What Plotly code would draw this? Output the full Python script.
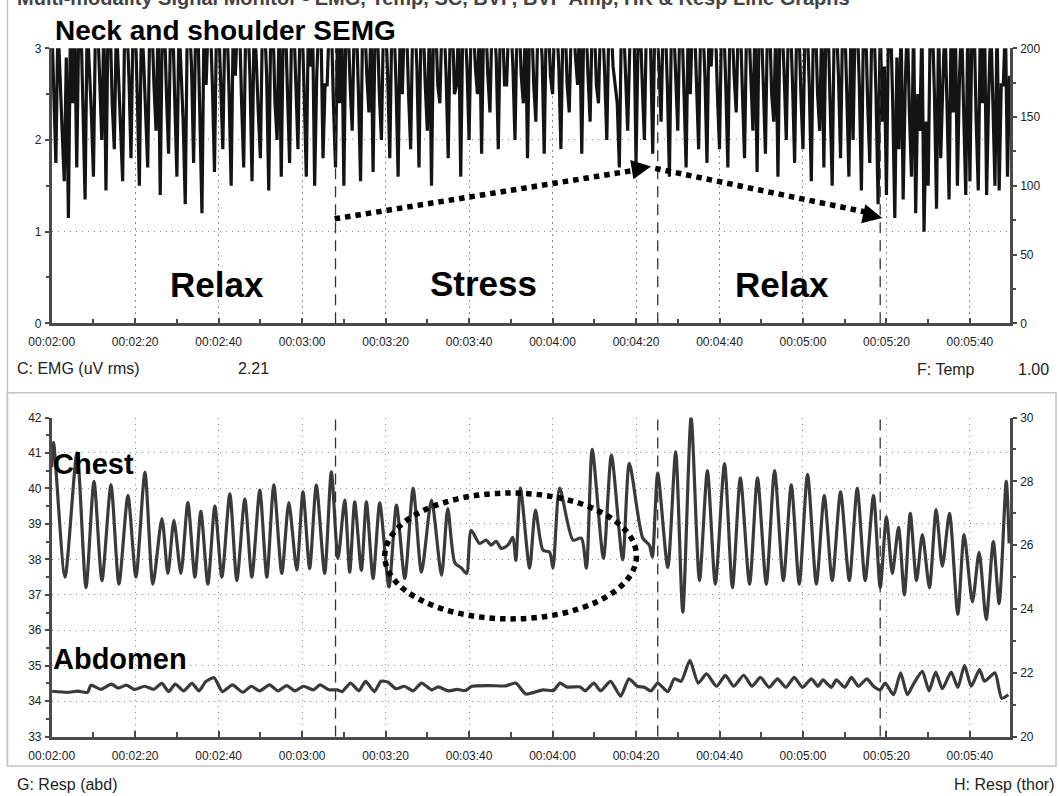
import plotly.graph_objects as go

W, H = 1059, 796

# ---------------- data ----------------
# Neck/shoulder SEMG readings, 00:02:00 onwards (values above 3 run off the top of the display)
emg_start_s = 120
# readings on each whole second
emg_uv = [
    3.3, 1.75, 2.6, 1.55, 1.15, 2.4, 1.7, 3.3, 1.35, 2.8,
    1.6, 3.3, 2.0, 1.45, 3.3, 1.9, 2.7, 1.55, 3.3, 1.8,
    3.3, 1.5, 2.9, 1.7, 3.3, 2.1, 1.4, 3.3, 1.85, 3.3,
    1.6, 2.8, 1.3, 3.3, 1.75, 3.3, 1.2, 2.6, 3.3, 1.65,
    3.3, 1.9, 3.3, 1.5, 2.7, 3.3, 1.7, 3.3, 1.55, 2.9,
    1.8, 3.3, 1.45, 3.3, 2.0, 1.6, 3.3, 1.75, 3.3, 1.9,
    3.3, 1.6, 2.8, 1.5, 3.3, 1.8, 2.6, 3.3, 1.7, 2.4,
    1.5, 3.3, 2.1, 3.3, 1.55, 3.3, 2.3, 1.65, 3.3, 2.0,
    3.3, 1.8, 3.3, 1.6, 2.5, 3.3, 1.9, 3.3, 1.7, 3.3,
    2.1, 1.5, 3.3, 2.4, 3.3, 1.8, 3.3, 2.6, 1.6, 3.3,
    2.0, 3.3, 2.5, 1.85, 3.3, 2.3, 3.3, 1.9, 3.3, 2.6,
    3.3, 2.0, 3.3, 2.4, 1.8, 3.3, 2.2, 3.3, 1.85, 3.3,
    2.5, 3.3, 1.9, 3.3, 2.3, 3.3, 2.6, 1.85, 3.3, 2.2,
    3.3, 2.4, 3.3, 2.0, 3.3, 2.6, 1.7, 3.3, 2.1, 3.3,
    1.75, 3.3, 2.0, 3.3, 1.85, 3.3, 2.2, 3.3, 1.6, 3.3,
    2.1, 3.3, 1.7, 2.5, 3.3, 1.9, 3.3, 1.75, 2.8, 3.3,
    1.9, 3.3, 1.7, 3.3, 2.3, 3.3, 1.8, 3.3, 2.1, 1.65,
    3.3, 1.85, 3.3, 2.2, 1.6, 3.3, 2.0, 3.3, 1.75, 3.3,
    1.9, 3.3, 1.55, 3.3, 2.1, 1.7, 3.3, 1.5, 3.3, 1.8,
    3.3, 1.6, 2.0, 3.3, 1.45, 3.3, 1.75, 3.3, 1.3, 2.2,
    1.4, 3.3, 1.15, 1.9, 1.35, 3.3, 1.6, 1.2, 2.1, 1.0,
    1.5, 3.3, 1.25, 1.8, 3.3, 1.35, 2.3, 1.5, 3.3, 1.4,
    1.55, 3.3, 1.45, 2.4, 1.4, 3.3, 1.5, 1.45, 2.6, 1.6,
]
# readings half a second later
emg_uv_half = [
    2.4, 3.3, 2.1, 2.9, 3.3, 3.3, 3.3, 2.2, 3.3, 2.3,
    3.3, 2.6, 3.3, 3.3, 2.4, 3.3, 2.2, 3.3, 2.7, 3.3,
    2.5, 3.3, 2.3, 3.3, 2.6, 3.3, 3.3, 2.5, 3.3, 2.4,
    3.3, 2.2, 3.3, 2.8, 3.3, 2.4, 3.3, 3.3, 2.6, 3.3,
    2.6, 3.3, 2.5, 3.3, 3.3, 2.4, 3.3, 2.7, 3.3, 2.3,
    3.3, 2.7, 3.3, 2.4, 3.3, 3.3, 2.5, 3.3, 2.6, 3.3,
    2.5, 3.3, 3.3, 2.7, 3.3, 2.6, 3.3, 2.4, 3.3, 3.3,
    3.3, 2.6, 3.3, 2.5, 3.3, 2.7, 3.3, 3.3, 2.5, 3.3,
    2.7, 3.3, 2.6, 3.3, 3.3, 2.5, 3.3, 2.8, 3.3, 2.6,
    3.3, 3.3, 2.6, 3.3, 2.7, 3.3, 2.5, 3.3, 3.3, 2.8,
    3.3, 2.8, 3.3, 3.3, 2.7, 3.3, 2.9, 3.3, 2.6, 3.3,
    2.8, 3.3, 2.7, 3.3, 3.3, 2.6, 3.3, 2.9, 3.3, 2.7,
    3.3, 2.8, 3.3, 2.6, 3.3, 2.9, 3.3, 3.3, 2.7, 3.3,
    2.6, 3.3, 2.7, 3.3, 2.8, 2.4, 3.3, 2.6, 3.0, 3.3,
    3.1, 2.6, 3.3, 3.0, 3.3, 2.8, 3.3, 2.6, 3.3, 2.7,
    3.3, 2.5, 3.3, 3.3, 2.6, 3.3, 2.7, 3.3, 3.3, 2.5,
    3.3, 2.6, 3.3, 2.7, 3.3, 2.5, 3.3, 2.7, 3.3, 3.3,
    2.6, 3.3, 2.5, 3.3, 3.3, 2.7, 3.3, 2.6, 3.3, 2.5,
    3.3, 2.6, 3.3, 2.5, 3.3, 3.3, 2.4, 3.3, 2.7, 3.3,
    2.5, 3.3, 3.3, 2.6, 3.3, 2.4, 3.3, 2.5, 3.3, 2.8,
    3.3, 2.4, 2.9, 3.3, 2.6, 2.3, 3.3, 2.5, 3.3, 2.2,
    3.3, 2.5, 3.3, 2.6, 2.4, 3.3, 3.3, 2.7, 2.3, 3.3,
    3.3, 2.2, 3.3, 3.3, 2.5, 2.4, 3.3, 2.6, 3.3, 2.7,
]

# Chest respiration: turning points (seconds, left-axis units)
chest_t = [
    120.0, 120.43, 123.18, 126.06, 128.21, 130.13, 132.04, 134.20, 136.11, 138.27,
    140.18, 142.34, 144.25, 146.41, 147.84, 149.28, 150.96, 152.63, 154.31, 155.74,
    157.42, 159.09, 160.77, 162.68, 164.36, 166.27, 167.95, 169.86, 171.54, 173.22,
    175.13, 176.81, 178.72,
    180.2, 181.8, 183.4, 185.4, 187.0, 188.6, 190.2, 191.4, 192.6, 194.2,
    195.4, 197.0, 198.6, 200.8, 202.6, 204.6, 206.6, 208.6, 211.0, 213.4,
    214.9, 216.6, 218.2, 219.4,
    220.5, 222.5, 224.1, 225.3, 226.5, 227.7, 229.3, 230.5, 231.2, 232.3,
    234.5, 235.9, 237.7, 239.3, 240.1, 241.7, 244.9, 246.9, 248.1, 249.5,
    252.2, 254.1, 256.8, 258.4, 261.6, 263.2, 263.9, 265.2, 267.6, 269.5,
    271.2, 273.2,
    275.2, 277.1, 279.0, 281.2, 283.1, 285.0, 287.2, 289.1, 291.2, 293.2,
    295.3, 297.2, 299.1, 301.1, 303.2, 305.1, 307.0, 309.0, 311.1, 313.0,
    314.9, 316.9, 318.5, 320.0, 321.4, 322.9, 324.3, 325.7, 327.2, 328.6,
    330.3, 331.9, 333.4, 335.1, 337.1, 338.6, 340.6, 342.2, 343.9, 345.6,
    347.0, 348.7, 349.4,
]
chest_v = [
    40.6, 41.3, 37.5, 41.0, 37.2, 40.2, 37.4, 40.1, 37.3, 39.8,
    37.5, 40.45, 37.3, 39.15, 37.6, 39.1, 37.6, 39.6, 37.5, 39.35,
    37.3, 39.5, 37.5, 39.85, 37.4, 39.7, 37.5, 39.95, 37.5, 40.1,
    37.6, 39.6, 37.7,
    39.9, 37.74, 40.09, 37.6, 40.47, 38.02, 39.67, 37.64, 39.62, 37.69,
    39.62, 37.46, 39.59, 37.22, 39.53, 37.46, 40.0, 37.64, 39.67, 37.55,
    39.43, 37.9, 37.75, 37.6,
    38.82, 38.45, 38.54, 38.4, 38.51, 38.31, 38.4, 38.62, 37.97, 40.01,
    37.75, 39.39, 38.26, 38.2, 37.75, 40.01, 38.54, 38.6, 37.75, 41.1,
    38.03, 40.94, 37.99, 40.71, 38.6, 38.4, 38.06, 40.43, 37.77, 41.03,
    36.51, 42.0,
    37.4, 40.5, 37.3, 40.7, 37.2, 40.3, 37.3, 40.3, 37.3, 40.5,
    37.4, 40.1, 37.3, 40.4, 37.3, 39.8, 37.4, 39.9, 37.4, 40.0,
    37.4, 39.8, 37.2, 39.2, 37.6, 38.9, 37.0, 39.3, 37.4, 38.7,
    37.2, 39.4, 37.8, 39.3, 36.45, 38.7, 36.8, 38.2, 36.3, 38.5,
    36.75, 40.2, 38.45,
]

# Abdominal respiration: turning points (seconds, left-axis units)
abd_t = [
    120.1, 123.8, 126.2, 128.6, 129.4, 131.8, 134.3, 135.9, 137.9, 139.9,
    142.3, 144.4, 146.4, 148.0, 149.6, 151.6, 153.6, 155.3, 156.9, 158.9,
    160.9, 163.3, 165.8, 167.8, 169.8, 172.2, 174.2, 176.3, 178.3, 180.3,
    182.7, 184.3, 186.4, 188.4, 189.6, 191.6, 193.6, 195.2, 197.3, 198.9,
    200.5, 202.5, 204.5, 206.6, 208.6, 211.0, 212.6, 215.0, 217.1, 219.1,
    220.7, 224.7, 228.8, 231.2, 233.6,
    237.7, 240.2, 241.8, 243.4, 246.6, 247.8, 249.9, 251.5, 253.9, 256.3,
    258.3, 260.3, 262.0, 263.6, 265.2, 267.6, 269.2, 270.8, 272.9, 274.9,
    276.9, 279.3, 281.4, 283.4, 285.8, 287.8, 289.8, 291.9, 293.9, 295.9,
    297.9, 299.9, 302.0, 303.6, 304.8, 306.8, 308.0, 310.0, 311.6, 313.3,
    315.3, 316.9, 318.5, 319.7, 321.7, 323.4, 325.0, 326.6, 328.6, 330.2,
    331.8, 333.4, 335.5, 337.1, 338.7, 340.3, 342.3, 343.5, 346.0, 347.6,
    349.2,
]
abd_v = [
    34.28, 34.25, 34.28, 34.25, 34.45, 34.33, 34.48, 34.37, 34.45, 34.33,
    34.42, 34.33, 34.5, 34.27, 34.48, 34.29, 34.5, 34.29, 34.55, 34.66,
    34.27, 34.46, 34.25, 34.42, 34.29, 34.46, 34.29, 34.44, 34.29, 34.42,
    34.32, 34.46, 34.32, 34.32, 34.27, 34.51, 34.29, 34.56, 34.27, 34.56,
    34.54, 34.35, 34.42, 34.29, 34.51, 34.32, 34.4, 34.29, 34.33, 34.3,
    34.42, 34.44, 34.43, 34.51, 34.2,
    34.32, 34.3, 34.51, 34.4, 34.4, 34.29, 34.51, 34.29, 34.56, 34.14,
    34.63, 34.42, 34.39, 34.29, 34.51, 34.27, 34.63, 34.56, 35.15, 34.51,
    34.77, 34.42, 34.73, 34.42, 34.73, 34.42, 34.67, 34.39, 34.63, 34.39,
    34.67, 34.39, 34.63, 34.42, 34.6, 34.39, 34.6, 34.39, 34.67, 34.42,
    34.63, 34.42, 34.32, 34.51, 34.18, 34.8, 34.18, 34.51, 34.84, 34.29,
    34.82, 34.35, 34.82, 34.39, 35.01, 34.42, 34.89, 34.56, 34.8, 34.08,
    34.18,
]

tick_secs = [120, 140, 160, 180, 200, 220, 240, 260, 280, 300, 320, 340]
tick_labels = ["00:02:00", "00:02:20", "00:02:40", "00:03:00", "00:03:20", "00:03:40",
               "00:04:00", "00:04:20", "00:04:40", "00:05:00", "00:05:20", "00:05:40"]
minor_secs = [130, 150, 170, 190, 210, 230, 250, 270, 290, 310, 330]
phase_marks = [188.0, 265.2, 318.5]          # dashed event markers (s)
x_range = [120, 349.6]

# interleave whole-second and half-second EMG readings into one time series
emg_t, emg_y = [], []
for i, (a, b) in enumerate(zip(emg_uv, emg_uv_half)):
    emg_t += [emg_start_s + i, emg_start_s + i + 0.5]
    emg_y += [a, b]

# ---------------- layout helpers ----------------
def px(x):
    return x / W

def py(y):
    return 1 - y / H

X_DOM = [px(51.7), px(1010)]
TOP_DOM = [py(323.3), py(48.3)]
BOT_DOM = [py(736.6), py(417.5)]

AX_COL = "#4a4a4a"
GRID_COL = "#8a8a8a"
TICK_FONT = dict(family="Liberation Sans Narrow, Arial Narrow, Liberation Sans, Arial", size=12, color="#222")
LBL_FONT = dict(family="Liberation Sans, Arial", size=16, color="#222")
BIG_FONT = dict(family="Liberation Sans, Arial", size=35, color="#000")

fig = go.Figure()

fig.add_trace(go.Scatter(x=emg_t, y=emg_y, mode="lines", xaxis="x", yaxis="y",
                         line=dict(color="#141414", width=3.2), showlegend=False, hoverinfo="skip"))
fig.add_trace(go.Scatter(x=[], y=[], mode="lines", xaxis="x", yaxis="y2", showlegend=False))
fig.add_trace(go.Scatter(x=chest_t, y=chest_v, mode="lines", xaxis="x2", yaxis="y3",
                         line=dict(color="#3a3a3a", width=3.2, shape="spline", smoothing=0.7),
                         showlegend=False, hoverinfo="skip"))
fig.add_trace(go.Scatter(x=abd_t, y=abd_v, mode="lines", xaxis="x2", yaxis="y3",
                         line=dict(color="#3a3a3a", width=3.2, shape="spline", smoothing=0.6),
                         showlegend=False, hoverinfo="skip"))
fig.add_trace(go.Scatter(x=[], y=[], mode="lines", xaxis="x2", yaxis="y4", showlegend=False))

def xaxis_cfg(anchor):
    return dict(domain=X_DOM, anchor=anchor, range=x_range, automargin=False, tickmode="array",
                tickvals=tick_secs, ticktext=tick_labels, ticks="inside", ticklen=6,
                tickwidth=1.5, tickcolor=AX_COL, tickfont=TICK_FONT, ticklabelstandoff=6,
                showline=True, linecolor=AX_COL, linewidth=2.5,
                showgrid=True, gridcolor=GRID_COL, gridwidth=1, griddash="1.5px,4.5px",
                zeroline=False,
                minor=dict(tickmode="array", tickvals=minor_secs, ticks="inside",
                           ticklen=5, tickwidth=1.5, tickcolor=AX_COL, showgrid=False))

def yleft_cfg(dom, rng, dt, mdt, anchor):
    return dict(domain=dom, anchor=anchor, range=rng, automargin=False, tickmode="linear",
                tick0=rng[0], dtick=dt,
                ticks="outside", ticklen=4, tickwidth=1.5, tickcolor=AX_COL, tickfont=TICK_FONT,
                ticklabelstandoff=1,
                showline=True, linecolor=AX_COL, linewidth=2.5,
                showgrid=True, gridcolor=GRID_COL, gridwidth=1, griddash="1.5px,4.5px",
                zeroline=False,
                minor=dict(dtick=mdt, tick0=rng[0], ticks="outside", ticklen=3, tickwidth=1.5,
                           tickcolor=AX_COL, showgrid=False))

def yright_cfg(over, rng, dt, mdt, anchor):
    return dict(overlaying=over, side="right", anchor=anchor, range=rng, automargin=False,
                tickmode="linear",
                tick0=rng[0], dtick=dt, ticks="outside", ticklen=4, tickwidth=1.5,
                tickcolor=AX_COL, tickfont=TICK_FONT, ticklabelstandoff=1,
                showline=True, linecolor=AX_COL, linewidth=2.5, showgrid=False, zeroline=False,
                minor=dict(dtick=mdt, tick0=rng[0], ticks="outside", ticklen=3, tickwidth=1.5,
                           tickcolor=AX_COL, showgrid=False))

shapes = []
# panel frames
shapes.append(dict(type="line", xref="paper", yref="paper", x0=px(7.4), x1=px(7.4), y0=1.02, y1=py(766),
                   line=dict(color="#c4c4c4", width=1.5), layer="below"))
shapes.append(dict(type="rect", xref="paper", yref="paper", x0=px(7.4), x1=px(1056), y0=py(766), y1=py(392.7),
                   line=dict(color="#c4c4c4", width=1.5), layer="below"))
# event markers
for t in phase_marks:
    shapes.append(dict(type="line", xref="x", yref="y domain", x0=t, x1=t, y0=0, y1=1,
                       line=dict(color="#333", width=1.3, dash="11px,7px")))
    shapes.append(dict(type="line", xref="x2", yref="y3 domain", x0=t, x1=t, y0=0, y1=1,
                       line=dict(color="#333", width=1.3, dash="11px,7px")))

# dotted trend arrows on the EMG panel
arrow_up = dict(x0=187.8, y0=1.14, x1=263.6, y1=1.71)
arrow_dn = dict(x0=264.6, y0=1.69, x1=319.0, y1=1.15)
dot_line = dict(color="#000", width=5.5, dash="5.5px,5px")
shapes.append(dict(type="line", xref="x", yref="y", x0=arrow_up["x0"], y0=arrow_up["y0"],
                   x1=arrow_up["x1"] - 2.5, y1=arrow_up["y1"] - 0.03, line=dot_line))
shapes.append(dict(type="line", xref="x", yref="y", x0=arrow_dn["x0"], y0=arrow_dn["y0"],
                   x1=arrow_dn["x1"] - 2.5, y1=arrow_dn["y1"] + 0.05, line=dot_line))
# dotted ellipse on the respiration panel
shapes.append(dict(type="circle", xref="x2", yref="y3", x0=199.8, x1=260.1, y0=36.32, y1=39.87,
                   line=dot_line))

annotations = []
annotations.append(dict(x=arrow_up["x1"], y=arrow_up["y1"], xref="x", yref="y", text="",
                        showarrow=True, arrowhead=2, arrowsize=1.3, arrowwidth=3, arrowcolor="#000",
                        ax=-20, ay=3.3))
annotations.append(dict(x=arrow_dn["x1"], y=arrow_dn["y1"], xref="x", yref="y", text="",
                        showarrow=True, arrowhead=2, arrowsize=1.3, arrowwidth=3, arrowcolor="#000",
                        ax=-19.5, ay=-4.3))

def txt(text, x, y, font, xanchor="left", yanchor="middle"):
    annotations.append(dict(text=text, x=px(x), y=py(y), xref="paper", yref="paper",
                            xanchor=xanchor, yanchor=yanchor, showarrow=False, font=font))

txt("<b>Multi-modality Signal Monitor - EMG, Temp, SC, BVP, BVP Amp, HR &amp; Resp Line Graphs</b>",
    15, 11, dict(family="Liberation Sans, Arial", size=20, color="#444"), yanchor="bottom")
txt("<b>Neck and shoulder SEMG</b>", 53, 31, dict(family="Liberation Sans, Arial", size=28, color="#000"))
txt("<b>Relax</b>", 217, 284, BIG_FONT, xanchor="center")
txt("<b>Stress</b>", 483, 283, BIG_FONT, xanchor="center")
txt("<b>Relax</b>", 782, 284, BIG_FONT, xanchor="center")
txt("<b>Chest</b>", 51, 464, dict(family="Liberation Sans, Arial", size=29, color="#000"))
txt("<b>Abdomen</b>", 51, 659, dict(family="Liberation Sans, Arial", size=29, color="#000"))
txt("C: EMG (uV rms)", 15, 368, LBL_FONT)
txt("2.21", 236, 368, LBL_FONT)
txt("F: Temp", 915, 369, LBL_FONT)
txt("1.00", 1051, 369, LBL_FONT, xanchor="right")
txt("G: Resp (abd)", 15, 784, LBL_FONT)
txt("H: Resp (thor)", 1056, 784, LBL_FONT, xanchor="right")

fig.update_layout(
    width=W, height=H, autosize=False,
    margin=dict(l=0, r=0, t=0, b=0, pad=0, autoexpand=False),
    paper_bgcolor="white", plot_bgcolor="white",
    showlegend=False,
    xaxis=xaxis_cfg("y"),
    yaxis=yleft_cfg(TOP_DOM, [0, 3], 1, 0.5, "x"),
    yaxis2=yright_cfg("y", [0, 200], 50, 25, "x"),
    xaxis2=xaxis_cfg("y3"),
    yaxis3=yleft_cfg(BOT_DOM, [33, 42], 1, 0.5, "x2"),
    yaxis4=yright_cfg("y3", [20, 30], 2, 1, "x2"),
    shapes=shapes,
    annotations=annotations,
)

# the page's default 8px body margin would push the 1059x796 figure out of the window
fig.write_html("out.html", config={"displayModeBar": False},
               post_script="document.body.style.margin='0px';document.body.style.overflow='hidden';")
